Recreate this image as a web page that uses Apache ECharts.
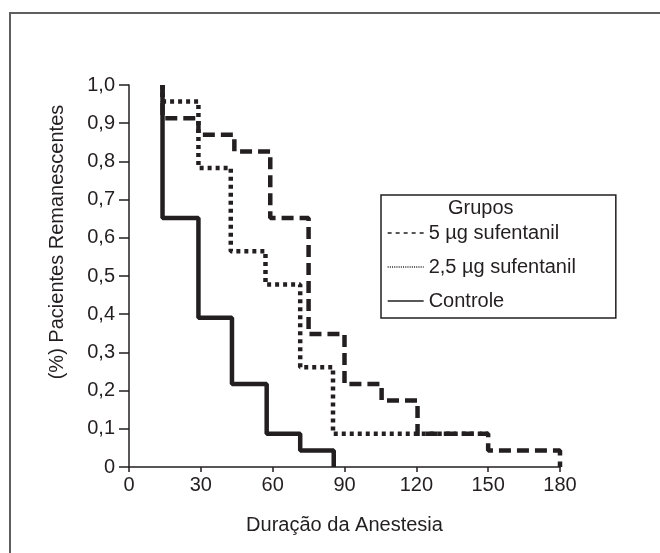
<!DOCTYPE html>
<html>
<head>
<meta charset="utf-8">
<script src="https://cdn.jsdelivr.net/npm/echarts@6/dist/echarts.min.js"></script>
<style>html,body{margin:0;padding:0;background:#fff}#c{width:660px;height:553px}</style>
</head>
<body>
<div id="c"></div>
<script>
// Kaplan-Meier data: event times (min) and proportion remaining after each event
const startTime = 14;
const controleTimes = [14, 29, 43, 57.5, 71.5, 85.5];
const controleSurv  = [0.652, 0.391, 0.217, 0.087, 0.043, 0];
const s5Times = [14, 29, 44, 59, 75, 90, 105.5, 120.5, 150, 180];
const s5Surv  = [0.913, 0.87, 0.826, 0.652, 0.348, 0.217, 0.174, 0.087, 0.043, 0];
const s25Times = [14, 29, 42.5, 57, 71.5, 85.2, 150];
const s25Surv  = [0.957, 0.783, 0.565, 0.478, 0.261, 0.087, 0.087];
const seriesNames = ['5 µg sufentanil', '2,5 µg sufentanil', 'Controle'];
const xTicks = [0, 30, 60, 90, 120, 150, 180];
const yTickLabels = ['0', '0,1', '0,2', '0,3', '0,4', '0,5', '0,6', '0,7', '0,8', '0,9', '1,0'];

function km(times, surv) {
  const d = [[startTime, 1.0]];
  for (let i = 0; i < times.length; i++) d.push([times[i], surv[i]]);
  return d;
}

const ink = '#231f20';
const font = 'Liberation Sans, Arial, sans-serif';
const fs = 20;
const hiddenSymbol = {opacity: 0, color: 'rgba(0,0,0,0)', borderWidth: 0};

const chart = echarts.init(document.getElementById('c'), null, {renderer: 'canvas'});
chart.setOption({
  animation: false,
  backgroundColor: '#fff',
  graphic: [{
    type: 'rect', shape: {x: 10, y: 13, width: 700, height: 600},
    style: {fill: 'none', stroke: '#5e5e5e', lineWidth: 2}, silent: true
  }],
  title: {
    text: 'Grupos', left: 448, top: 198,
    textStyle: {fontFamily: font, fontSize: fs, fontWeight: 'normal', color: ink},
    padding: 0
  },
  legend: {
    orient: 'vertical', left: 381, top: 195,
    padding: [28, 40, 7, 6],
    borderColor: ink, borderWidth: 1.5,
    itemWidth: 36, itemHeight: 14, itemGap: 14,
    textStyle: {fontFamily: font, fontSize: fs, color: ink},
    itemStyle: hiddenSymbol,
    data: [
      {name: seriesNames[0], itemStyle: hiddenSymbol, lineStyle: {type: [4, 4], width: 1.3, color: ink}},
      {name: seriesNames[1], itemStyle: hiddenSymbol, lineStyle: {type: [1, 1.2], width: 1.3, color: ink}},
      {name: seriesNames[2], itemStyle: hiddenSymbol, lineStyle: {type: 'solid', width: 1.3, color: ink}}
    ]
  },
  grid: {left: 129, right: 100, top: 85, bottom: 86, containLabel: false},
  xAxis: {
    type: 'value', min: xTicks[0], max: xTicks[xTicks.length - 1], interval: 30,
    name: 'Duração da Anestesia', nameLocation: 'middle', nameGap: 48,
    nameTextStyle: {fontFamily: font, fontSize: fs, color: ink},
    axisLine: {onZero: false, lineStyle: {color: ink, width: 1.5}},
    axisTick: {show: true, length: 5, lineStyle: {color: ink, width: 1.5}},
    axisLabel: {fontFamily: font, fontSize: fs, color: ink, margin: 8},
    splitLine: {show: false}
  },
  yAxis: {
    type: 'value', min: 0, max: 1, interval: 0.1,
    name: '(%) Pacientes Remanescentes', nameLocation: 'middle', nameGap: 62,
    nameTextStyle: {fontFamily: font, fontSize: fs, color: ink, padding: [0, 0, 0, 68]},
    axisLine: {show: true, onZero: false, lineStyle: {color: ink, width: 1.5}},
    axisTick: {show: true, length: 10, lineStyle: {color: ink, width: 1.5}},
    axisLabel: {fontFamily: font, fontSize: fs, color: ink, margin: 14,
      formatter: v => yTickLabels[Math.round(v * 10)]},
    splitLine: {show: false}
  },
  series: [
    {name: seriesNames[0], type: 'line', step: 'end', symbol: 'none', data: km(s5Times, s5Surv),
     lineStyle: {color: ink, width: 4.5, type: [12, 6], cap: 'butt'}, itemStyle: {color: ink}, z: 2},
    {name: seriesNames[1], type: 'line', step: 'end', symbol: 'none', data: km(s25Times, s25Surv),
     lineStyle: {color: ink, width: 4.5, type: [4, 4], cap: 'butt'}, itemStyle: {color: ink}, z: 3},
    {name: seriesNames[2], type: 'line', step: 'end', symbol: 'none', data: km(controleTimes, controleSurv),
     lineStyle: {color: ink, width: 4.5, type: 'solid'}, itemStyle: {color: ink}, z: 4}
  ]
});
</script>
</body>
</html>
